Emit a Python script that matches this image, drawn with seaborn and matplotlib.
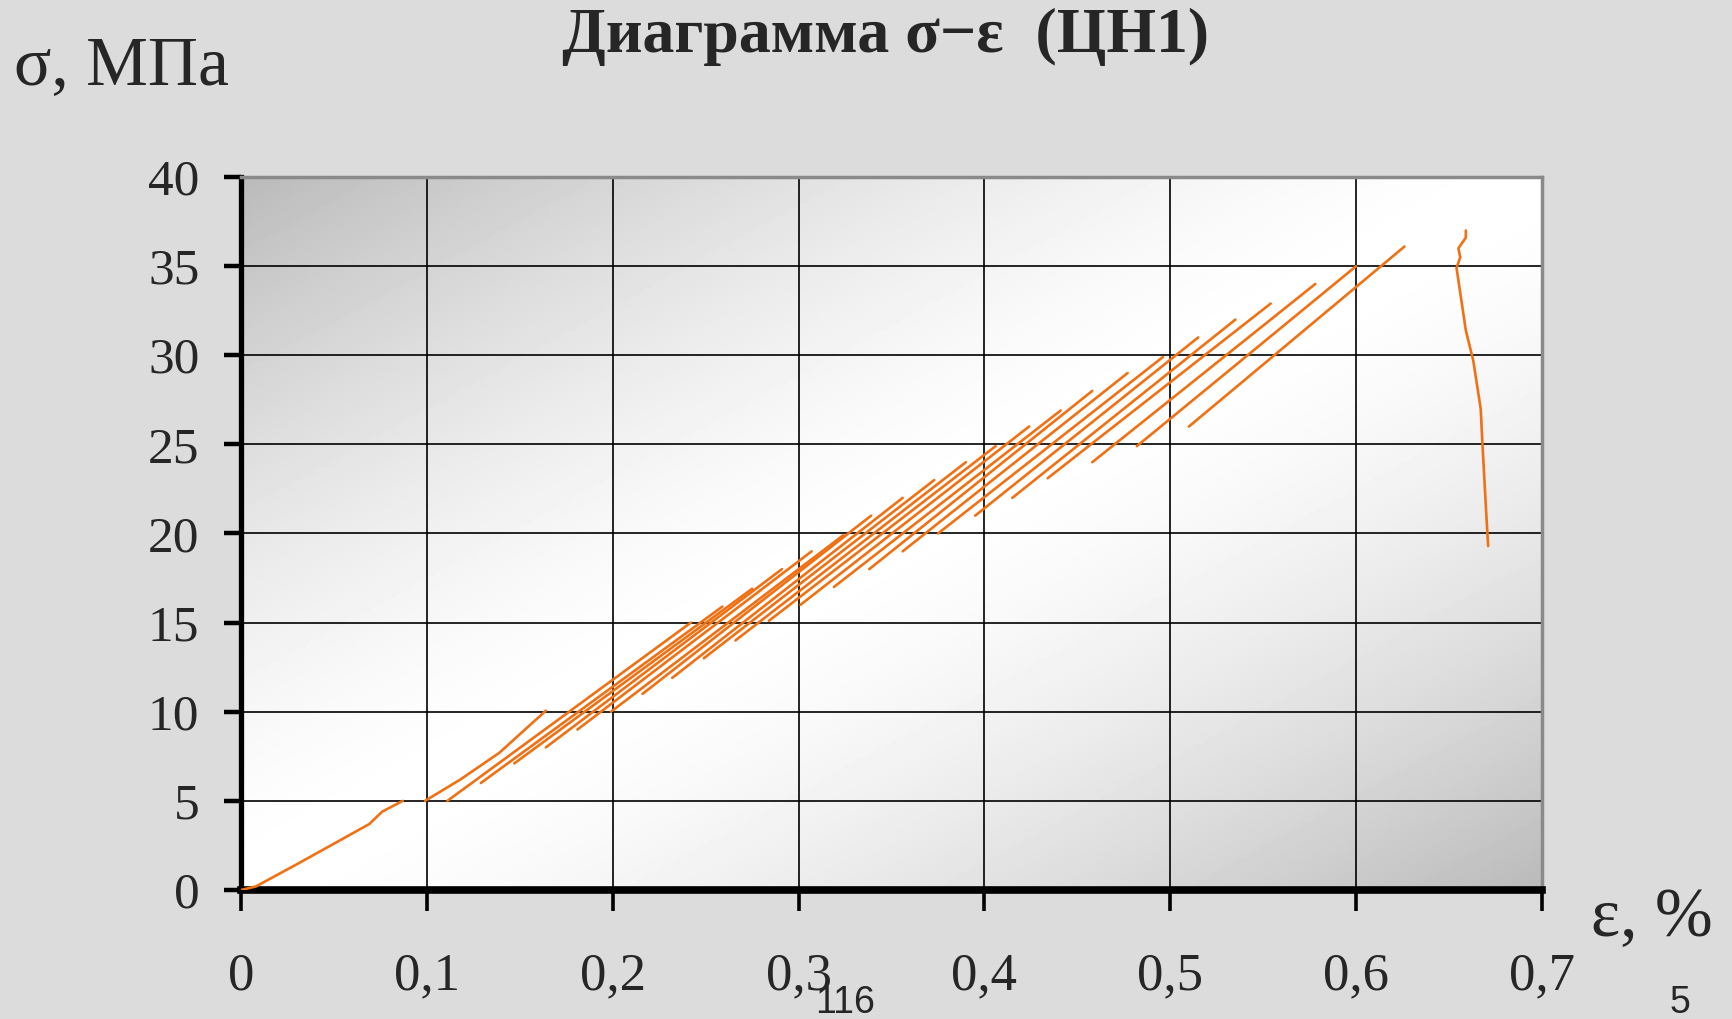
import numpy as np
import pandas as pd
import seaborn as sns
import matplotlib.pyplot as plt

# first loading branch 0 -> 5 MPa
first_eps = [0.0, 0.008, 0.031, 0.069, 0.076, 0.087]
first_sig = [0.0, 0.2, 1.5, 3.7, 4.4, 5.0]

# second branch 5 -> 10 MPa
second_eps = [0.099, 0.118, 0.139, 0.164]
second_sig = [5.0, 6.2, 7.7, 10.06]

# staggered loading branches (start point -> end point)
load_start_eps = [0.111, 0.129, 0.147, 0.164, 0.181, 0.199, 0.216, 0.232, 0.249, 0.266, 0.284,
                  0.301, 0.319, 0.338, 0.356, 0.375, 0.395, 0.415, 0.434, 0.458, 0.482, 0.510]
load_start_sig = [5.0, 6.0, 7.1, 8.0, 9.0, 10.0, 11.0, 11.9, 13.0, 14.0, 15.1,
                  16.0, 17.0, 18.0, 19.0, 20.0, 21.0, 22.0, 23.1, 24.0, 24.9, 26.0]
load_end_eps = [0.242, 0.259, 0.275, 0.291, 0.307, 0.324, 0.339, 0.356, 0.373, 0.390, 0.406,
                0.424, 0.441, 0.458, 0.477, 0.496, 0.515, 0.535, 0.554, 0.578, 0.600, 0.626]
load_end_sig = [15.0, 15.9, 16.9, 18.0, 19.0, 19.9, 21.0, 22.0, 23.0, 24.0, 24.9,
                26.0, 26.9, 28.0, 29.0, 29.9, 31.0, 32.0, 32.9, 34.0, 35.0, 36.1]

# failure branch on the right
fail_eps = [0.659, 0.659, 0.655, 0.656, 0.654, 0.659, 0.663, 0.667, 0.668, 0.670, 0.671]
fail_sig = [37.0, 36.6, 36.0, 35.5, 34.9, 31.4, 29.7, 27.0, 24.9, 21.1, 19.3]

x_ticks = [0, 0.1, 0.2, 0.3, 0.4, 0.5, 0.6, 0.7]
x_labels = ['0', '0,1', '0,2', '0,3', '0,4', '0,5', '0,6', '0,7']
y_ticks = [0, 5, 10, 15, 20, 25, 30, 35, 40]

rows = []
for i, (e, s) in enumerate(zip(first_eps, first_sig)):
    rows.append(('first', i, e, s))
for i, (e, s) in enumerate(zip(second_eps, second_sig)):
    rows.append(('second', i, e, s))
for k in range(len(load_start_eps)):
    rows.append((f'load{k}', 0, load_start_eps[k], load_start_sig[k]))
    rows.append((f'load{k}', 1, load_end_eps[k], load_end_sig[k]))
for i, (e, s) in enumerate(zip(fail_eps, fail_sig)):
    rows.append(('fail', i, e, s))
df = pd.DataFrame(rows, columns=['seg', 'order', 'eps', 'sig'])

sns.set_theme(style='white')
plt.rcParams['font.family'] = ['Liberation Serif', 'DejaVu Serif']

fig = plt.figure(figsize=(17.33, 10.19), dpi=100, facecolor='#dcdcdc')
ax = fig.add_axes([0.1391, 0.1266, 0.7507, 0.6997])

# gradient background of the plot area
u, v = np.meshgrid(np.linspace(0, 1, 300), np.linspace(0, 1, 200))
g = (u + v) / 2
shade = 1 - 0.27 * np.abs(2 * g - 1) ** 1.5
ax.imshow(shade, extent=[0, 0.7, 0, 40], aspect='auto', cmap='gray', vmin=0, vmax=1,
          origin='upper', zorder=0)

sns.lineplot(data=df, x='eps', y='sig', units='seg', estimator=None, sort=False,
             color='#f07014', linewidth=1.9, ax=ax, zorder=3)

ax.set_xlim(0, 0.7)
ax.set_ylim(0, 40)
ax.set_xticks(x_ticks)
ax.set_xticklabels(x_labels)
ax.set_yticks(y_ticks)
ax.grid(True, color='black', linewidth=1.2)
for line in ax.get_xgridlines() + ax.get_ygridlines():
    line.set_zorder(1)
ax.set_xlabel('')
ax.set_ylabel('')

ax.spines['left'].set_color('black')
ax.spines['left'].set_linewidth(3.8)
ax.spines['bottom'].set_color('black')
ax.spines['bottom'].set_linewidth(5.5)
ax.spines['top'].set_color('#8a8a8a')
ax.spines['top'].set_linewidth(2.5)
ax.spines['right'].set_color('#8a8a8a')
ax.spines['right'].set_linewidth(2.5)

ax.tick_params(axis='y', direction='out', length=12, width=3.2, color='black',
               pad=18, labelsize=37, left=True)
ax.tick_params(axis='x', direction='out', length=15, width=2.6, color='black',
               pad=30, labelsize=38, bottom=True)

fig.text(0.511, 1 - 52 / 1019, 'Диаграмма σ−ε  (ЦН1)', ha='center', va='baseline',
         fontsize=46, fontweight='bold')
fig.text(14 / 1733, 1 - 84 / 1019, 'σ, МПа', ha='left', va='baseline', fontsize=50)
fig.text(1591 / 1733, 1 - 936 / 1019, 'ε, %', ha='left', va='baseline', fontsize=50)
fig.text(845 / 1733, 0.006, '116', ha='center', va='baseline', fontsize=27,
         family='Liberation Sans')
fig.text(1680 / 1733, 0.006, '5', ha='center', va='baseline', fontsize=27,
         family='Liberation Sans')

fig.savefig('out.png', dpi=100, facecolor=fig.get_facecolor())
